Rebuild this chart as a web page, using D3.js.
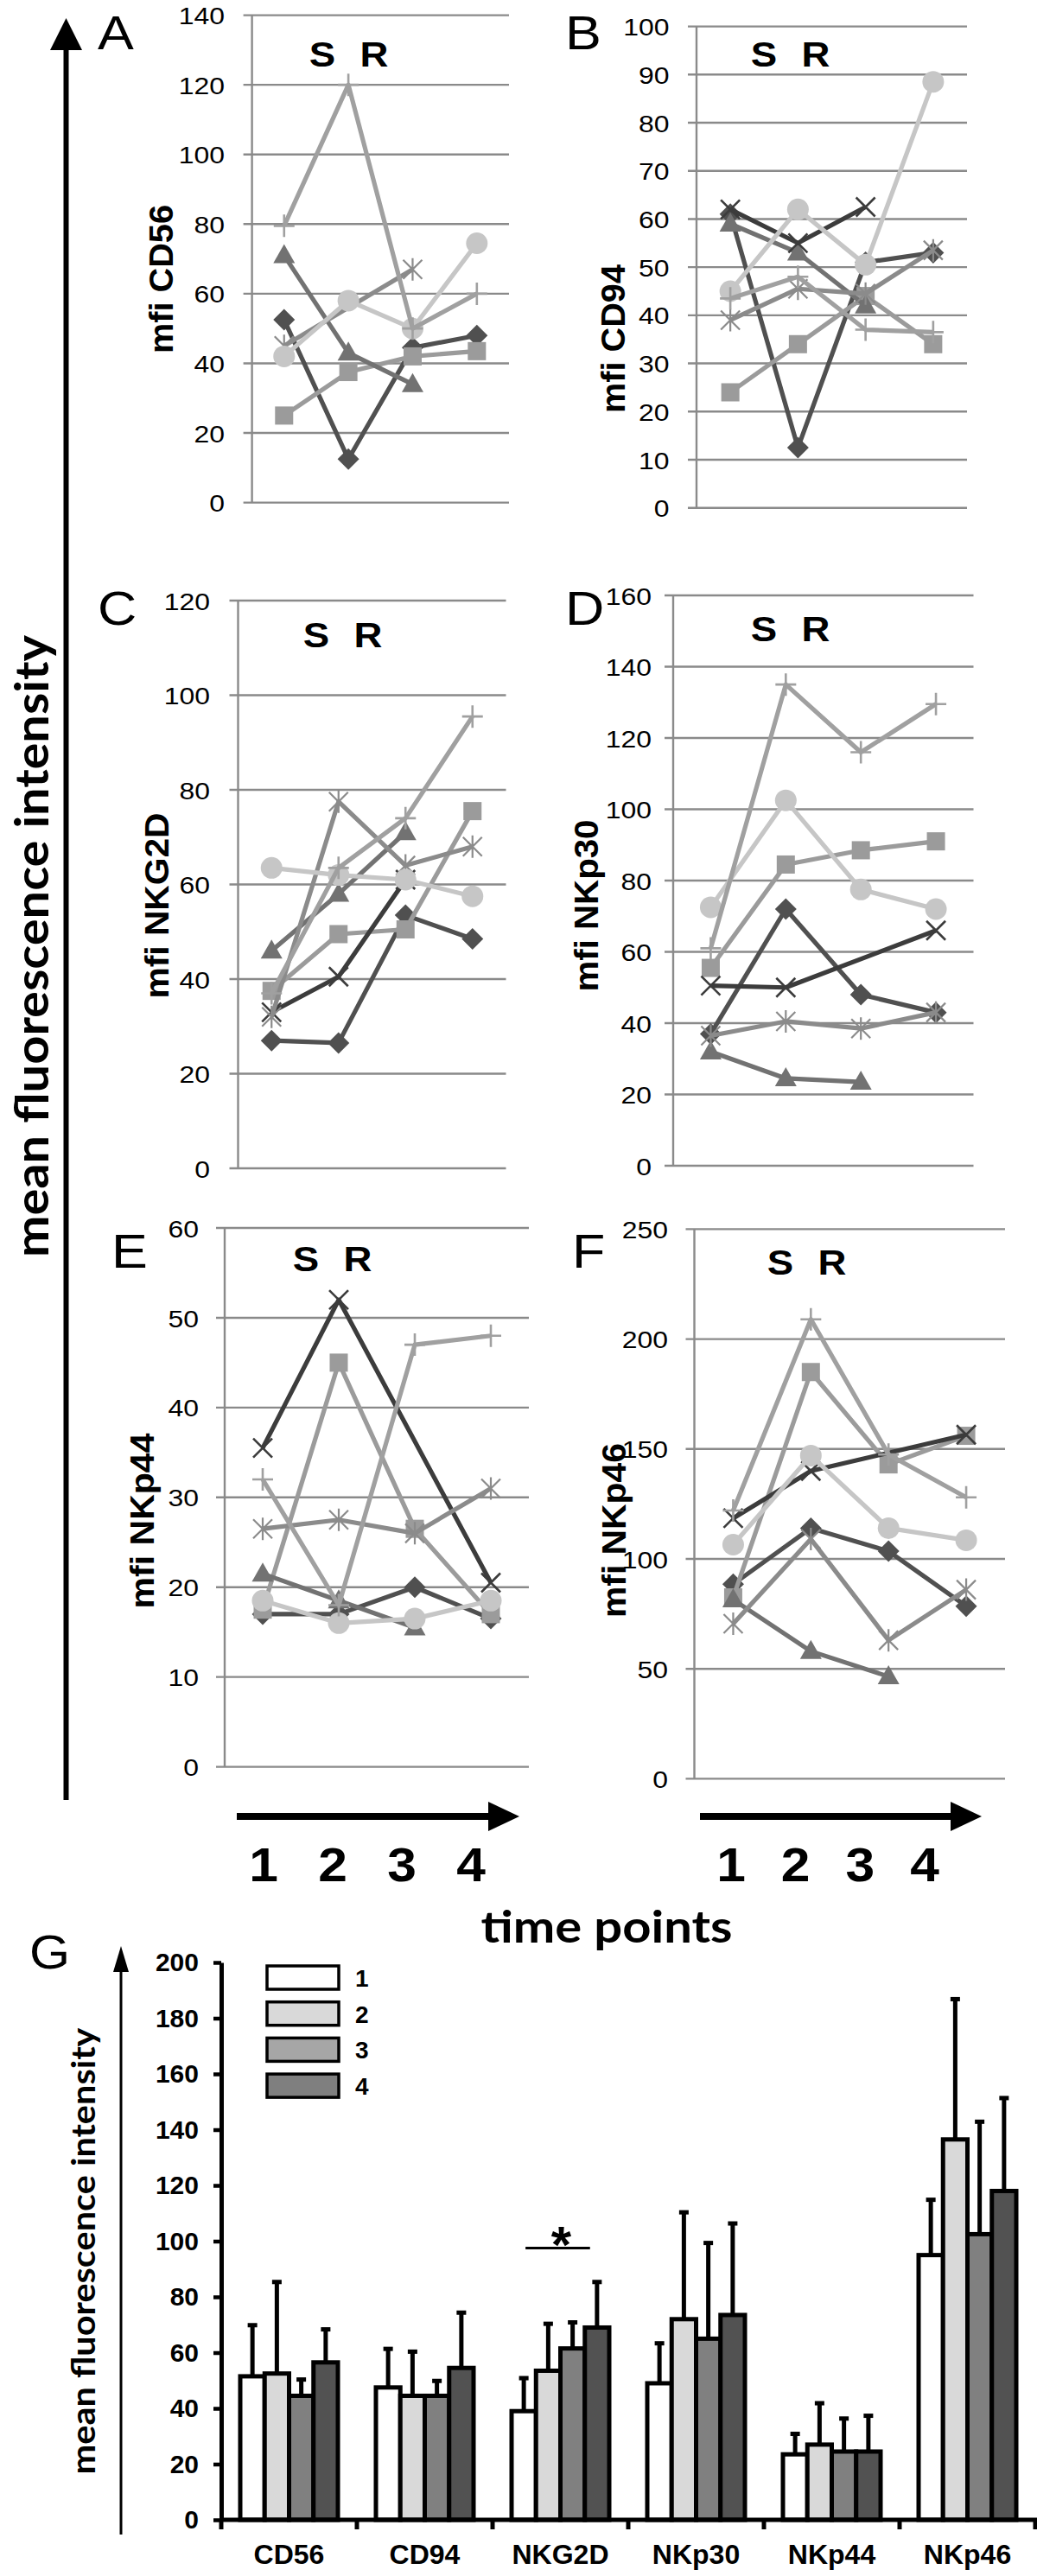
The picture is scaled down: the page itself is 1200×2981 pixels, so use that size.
<!DOCTYPE html>
<html><head><meta charset="utf-8">
<script src="https://cdn.jsdelivr.net/npm/d3@7"></script>
<style>body{margin:0;background:#fff}svg{display:block}</style>
</head><body>
<svg id="c" width="1200" height="2981"></svg>
<script>
// ---------------- DATA ----------------
const timePoints = ["1","2","3","4"];
const seriesMarkers = ["diamond","square","triangle","x","asterisk","circle","plus"];
const seriesColors = ["#505050","#9b9b9b","#727272","#3c3c3c","#8b8b8b","#c6c6c6","#a0a0a0"];
// rows follow seriesMarkers, columns follow timePoints (null = no value)
const cd56Values = [
  [52.5,12.5,44.5,48],
  [25,37.5,42,43.5],
  [71,43,34,null],
  [null,null,null,null],
  [45,null,67,null],
  [42,58,50,74.5],
  [79.5,120,50,60]];
const cd94Values = [
  [61,12.5,51,53],
  [24,34,44,34],
  [59,53,42,null],
  [62,55,62.5,null],
  [39,45.5,44.5,53.5],
  [45,62,50.5,88.5],
  [43.5,48,37,36.5]];
const nkg2dValues = [
  [27,26.5,53.5,48.5],
  [37.5,49.5,50.5,75.5],
  [46,58,71,null],
  [33,40.5,61,null],
  [32,77.5,64,68],
  [63.5,62,61,57.5],
  [37,63.5,74,95.5]];
const nkp30Values = [
  [37,72,48,43],
  [55.5,84.5,88.5,91],
  [32,24.5,23.5,null],
  [50.5,50,null,66],
  [36.5,40.5,38.5,43],
  [72.5,102.5,77.5,72],
  [61,135,116,129.5]];
const nkp44Values = [
  [17,17,20,16.5],
  [17.5,45,26.5,17],
  [21.5,18.5,15.5,null],
  [35.5,52,null,20.5],
  [26.5,27.5,26,31],
  [18.5,16,16.5,18.5],
  [32,18,47,48]];
const nkp46Values = [
  [88.5,114,103.5,78.5],
  [82.5,185,143,156],
  [81.5,58,46.5,null],
  [118.5,140,null,156.5],
  [70.5,109,63,86],
  [106.5,147,114,108.5],
  [122,209,147.5,128]];
const panelLetters = ["A","B","C","D","E","F"];
const panelLabels = ["mfi CD56","mfi CD94","mfi NKG2D","mfi NKp30","mfi NKp44","mfi NKp46"];
const panelMax = [140,100,120,160,60,250];
const panelStep = [20,10,20,20,10,50];

const barMarkers = ["CD56","CD94","NKG2D","NKp30","NKp44","NKp46"];
const meanT1 = [51.5,47.5,39,49,23.5,95];
const meanT2 = [52.5,44.5,53.5,72,27,136.5];
const meanT3 = [44.5,44.5,61.5,65,24.5,102.5];
const meanT4 = [56.5,54.5,69,73.5,24.5,118];
const sdT1 = [18.5,14,12,14.5,7.5,20];
const sdT2 = [33,16,17,38.5,15,50.5];
const sdT3 = [6,5.5,9.5,34.5,12,40.5];
const sdT4 = [12,20,16.5,33,13,33.5];
const barTicks = d3.range(0,201,20);
const starLevel = 97.5;

// ---------------- LAYOUT / STYLE ----------------
const FONT = "Arial, 'Liberation Sans', Helvetica, sans-serif";
const CAL = "Lato, 'Open Sans', sans-serif";
const GRID = "#8a8a8a";
const barFills = ["#ffffff","#d9d9d9","#808080","#525252"];
const legendFills = ["#ffffff","#d9d9d9","#a6a6a6","#7f7f7f"];
const panelLayout = [
  {l:291.6,r:589,t:17.6,b:581.6,letX:113,letY:57,labX:200,labY:323,labLen:172,sX:373,sY:76.5,tg:31.6},
  {l:806,r:1119,t:30.6,b:587.7,letX:654,letY:57,labX:723,labY:392,labLen:172,sX:884,sY:76.5,tg:31.5},
  {l:275.5,r:585.5,t:695,b:1352,letX:113,letY:723,labX:195,labY:1048,labLen:215,sX:366,sY:748.5,tg:32.5},
  {l:779,r:1126.5,t:689,b:1349,letX:654,letY:723,labX:692,labY:1048,labLen:199,sX:884,sY:742,tg:25},
  {l:260,r:612,t:1421,b:2044.6,letX:129,letY:1467,labX:178,labY:1760,labLen:203,sX:354,sY:1471,tg:30},
  {l:803.5,r:1163,t:1422.4,b:2058.4,letX:662,letY:1467,labX:724,labY:1771,labLen:202,sX:903,sY:1474.5,tg:30.5}
];
const SX = 1.14; // horizontal stretch of the original panel text

const svg = d3.select("#c");
svg.append("rect").attr("width",1200).attr("height",2981).attr("fill","#fff");

function stext(parent,x,y,str,size,weight,anchor,sx){
  return parent.append("text")
    .attr("transform",`translate(${x},${y}) scale(${sx},1)`)
    .attr("font-family",FONT).attr("font-size",size).attr("font-weight",weight)
    .attr("text-anchor",anchor).attr("fill","#000").text(str);
}
function drawMarker(sel,type,color){
  switch(type){
    case "diamond": sel.append("path").attr("d","M0,-12.5L12.5,0L0,12.5L-12.5,0Z").attr("fill",color); break;
    case "square": sel.append("rect").attr("x",-10.5).attr("y",-10.5).attr("width",21).attr("height",21).attr("fill",color); break;
    case "triangle": sel.append("path").attr("d","M0,-13L12.5,9L-12.5,9Z").attr("fill",color); break;
    case "x": sel.append("path").attr("d","M-11,-11L11,11M-11,11L11,-11").attr("stroke",color).attr("stroke-width",2.6).attr("fill","none"); break;
    case "asterisk": sel.append("path").attr("d","M-11,-11L11,11M-11,11L11,-11M0,-13L0,13").attr("stroke",color).attr("stroke-width",2.2).attr("fill","none"); break;
    case "circle": sel.append("circle").attr("r",12.5).attr("fill",color); break;
    case "plus": sel.append("path").attr("d","M-12,0L12,0M0,-13L0,13").attr("stroke",color).attr("stroke-width",2.6).attr("fill","none"); break;
  }
}

// ---------------- PANELS A-F ----------------
const panelData = [cd56Values,cd94Values,nkg2dValues,nkp30Values,nkp44Values,nkp46Values];
panelData.forEach((vals,i)=>{
  const L = panelLayout[i];
  const g = svg.append("g");
  const x = d3.scaleBand().domain(timePoints).range([L.l,L.r]);
  const y = d3.scaleLinear().domain([0,panelMax[i]]).range([L.b,L.t]);
  const ticks = d3.range(0,panelMax[i]+0.001,panelStep[i]);
  g.selectAll("line.grid").data(ticks).join("line").attr("class","grid")
    .attr("x1",L.l-10).attr("x2",L.r).attr("y1",d=>y(d)).attr("y2",d=>y(d))
    .attr("stroke",GRID).attr("stroke-width",2.4);
  g.append("line").attr("x1",L.l).attr("x2",L.l).attr("y1",y(0)).attr("y2",y(panelMax[i]))
    .attr("stroke",GRID).attr("stroke-width",2.4);
  const ax = g.append("g").attr("transform",`translate(${L.l},0)`)
    .call(d3.axisLeft(y).tickValues(ticks).tickSize(0).tickFormat(d3.format("d")));
  ax.select(".domain").remove();
  ax.selectAll("text").attr("font-family",FONT).attr("font-size",28).attr("fill","#000")
    .attr("x",-L.tg/SX).attr("dy","0.36em").attr("transform",`scale(${SX},1)`);

  vals.forEach((row,s)=>{
    const pts = row.map((v,j)=>({t:timePoints[j],v})).filter(d=>d.v!==null);
    if(!pts.length) return;
    const cx = d=>x(d.t)+x.bandwidth()/2;
    g.append("path").datum(pts)
      .attr("d",d3.line().x(cx).y(d=>y(d.v)))
      .attr("fill","none").attr("stroke",seriesColors[s]).attr("stroke-width",5.2)
      .attr("stroke-linejoin","round");
    g.selectAll(null).data(pts).join("g")
      .attr("transform",d=>`translate(${cx(d)},${y(d.v)})`)
      .each(function(){drawMarker(d3.select(this),seriesMarkers[s],seriesColors[s]);});
  });

  stext(g,L.letX,L.letY,panelLetters[i],55,"normal","start",SX);
  stext(g,L.sX,L.sY,"S",40,"bold","middle",SX);
  stext(g,L.sX+60,L.sY,"R",40,"bold","middle",SX);
  g.append("text").attr("transform",`translate(${L.labX},${L.labY}) rotate(-90)`)
    .attr("font-family",FONT).attr("font-size",38).attr("font-weight","bold")
    .attr("text-anchor","middle").attr("textLength",L.labLen).attr("lengthAdjust","spacingAndGlyphs")
    .text(panelLabels[i]);
});

// big vertical arrow + label
svg.append("line").attr("x1",76.5).attr("x2",76.5).attr("y1",2083).attr("y2",50)
  .attr("stroke","#000").attr("stroke-width",6);
svg.append("path").attr("d","M58,58L95,58L76.5,21Z").attr("fill","#000");
svg.append("text").attr("transform","translate(56,1095) rotate(-90)")
  .attr("font-family",CAL).attr("font-weight","bold").attr("font-size",54)
  .attr("text-anchor","middle").attr("textLength",720).attr("lengthAdjust","spacingAndGlyphs")
  .text("mean fluorescence intensity");

// time arrows under E and F
[[274,601],[810,1136]].forEach(([a,b])=>{
  svg.append("line").attr("x1",a).attr("x2",b-30).attr("y1",2102).attr("y2",2102)
    .attr("stroke","#000").attr("stroke-width",8);
  svg.append("path").attr("d",`M${b-36},2085L${b-36},2119L${b},2102Z`).attr("fill","#000");
});
const tpE = d3.scalePoint().domain(timePoints).range([305,545]);
const tpF = d3.scalePoint().domain(timePoints).range([846,1070]);
[tpE,tpF].forEach(sc=>{
  timePoints.forEach(t=>stext(svg,sc(t),2177,t,56,"bold","middle",1.08));
});
svg.append("text").attr("x",702).attr("y",2248)
  .attr("font-family",CAL).attr("font-weight","bold").attr("font-size",52)
  .attr("text-anchor","middle").attr("textLength",291).attr("lengthAdjust","spacingAndGlyphs")
  .text("time points");

// ---------------- PANEL G ----------------
const gG = svg.append("g");
stext(gG,34,2278,"G",55,"normal","start",1.1);
gG.append("line").attr("x1",140).attr("x2",140).attr("y1",2933).attr("y2",2275)
  .attr("stroke","#000").attr("stroke-width",3);
gG.append("path").attr("d","M131,2282L149,2282L140,2252Z").attr("fill","#000");
gG.append("text").attr("transform","translate(110,2605) rotate(-90)")
  .attr("font-family",CAL).attr("font-weight","bold").attr("font-size",38)
  .attr("text-anchor","middle").attr("textLength",517).attr("lengthAdjust","spacingAndGlyphs")
  .text("mean fluorescence intensity");

const yG = d3.scaleLinear().domain([0,200]).range([2916,2271]);
const x0 = d3.scaleBand().domain(barMarkers).range([256,1198]);
const x1 = d3.scaleBand().domain(timePoints).range([22,135]);
const means = [meanT1,meanT2,meanT3,meanT4];
const sds = [sdT1,sdT2,sdT3,sdT4];

// bars
barMarkers.forEach((m,mi)=>{
  timePoints.forEach((t,ti)=>{
    const bx = x0(m)+x1(t), bw = x1.bandwidth(), v = means[ti][mi], e = sds[ti][mi];
    const cx = bx+bw/2;
    gG.append("line").attr("x1",cx).attr("x2",cx).attr("y1",yG(v)).attr("y2",yG(v+e))
      .attr("stroke","#000").attr("stroke-width",5);
    gG.append("rect").attr("x",cx-5.5).attr("y",yG(v+e)-2).attr("width",11).attr("height",5).attr("fill","#000");
  });
  timePoints.forEach((t,ti)=>{
    const v = means[ti][mi];
    gG.append("rect").attr("x",x0(m)+x1(t)).attr("y",yG(v)).attr("width",x1.bandwidth())
      .attr("height",yG(0)-yG(v)).attr("fill",barFills[ti]).attr("stroke","#000").attr("stroke-width",5);
  });
});

// y axis
const yAx = gG.append("g").attr("transform","translate(256,0)")
  .call(d3.axisLeft(yG).tickValues(barTicks).tickSize(9).tickSizeOuter(0).tickPadding(17));
yAx.select(".domain").attr("stroke","#000").attr("stroke-width",5);
yAx.selectAll(".tick line").attr("stroke","#000").attr("stroke-width",4.5);
yAx.selectAll("text").attr("font-family",FONT).attr("font-size",30).attr("font-weight","bold").attr("fill","#000");

// x axis
gG.append("line").attr("x1",254).attr("x2",1200).attr("y1",yG(0)).attr("y2",yG(0))
  .attr("stroke","#000").attr("stroke-width",5);
const bounds = barMarkers.map(m=>x0(m)).concat([x0.range()[1]]);
gG.selectAll("line.xt").data(bounds).join("line").attr("class","xt")
  .attr("x1",d=>d).attr("x2",d=>d).attr("y1",yG(0)).attr("y2",yG(0)+11)
  .attr("stroke","#000").attr("stroke-width",5);
barMarkers.forEach(m=>{
  gG.append("text").attr("x",x0(m)+x0.bandwidth()/2).attr("y",2967)
    .attr("font-family",FONT).attr("font-size",32).attr("font-weight","bold")
    .attr("text-anchor","middle").text(m);
});

// significance
const sx1 = x0("NKG2D")+x1("1")+x1.bandwidth()/2+2;
const sx2 = x0("NKG2D")+x1("4")+6;
gG.append("line").attr("x1",sx1).attr("x2",sx2).attr("y1",yG(starLevel)).attr("y2",yG(starLevel))
  .attr("stroke","#000").attr("stroke-width",3);
gG.append("text").attr("x",(sx1+sx2)/2+4).attr("y",yG(starLevel)+16)
  .attr("font-family",FONT).attr("font-size",60).attr("font-weight","bold")
  .attr("text-anchor","middle").text("*");

// legend
timePoints.forEach((t,i)=>{
  const ly = 2275+i*41.7;
  gG.append("rect").attr("x",309).attr("y",ly).attr("width",83).attr("height",27)
    .attr("fill",legendFills[i]).attr("stroke","#000").attr("stroke-width",3.5);
  gG.append("text").attr("x",411).attr("y",ly+24).attr("font-family",FONT)
    .attr("font-size",28).attr("font-weight","bold").text(t);
});
</script>
</body></html>
